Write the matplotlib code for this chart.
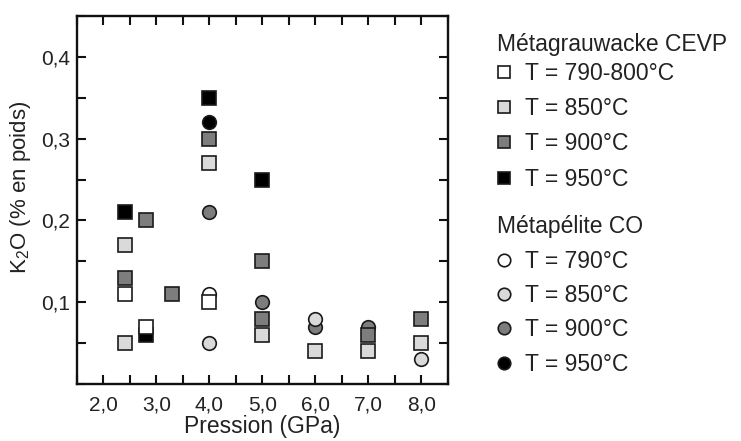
import matplotlib
matplotlib.use("Agg")
import matplotlib.pyplot as plt
from matplotlib.lines import Line2D
from matplotlib.ticker import MultipleLocator, FuncFormatter

plt.rcParams['font.family'] = ['Liberation Sans', 'DejaVu Sans']
plt.rcParams['mathtext.fontset'] = 'custom'
plt.rcParams['mathtext.rm'] = 'Liberation Sans'

# ---- data ----
grau_labels = ["T = 790-800°C", "T = 850°C", "T = 900°C", "T = 950°C"]
grau_x = [
    [2.4, 2.8, 4.0],
    [2.4, 2.4, 4.0, 5.0, 6.0, 7.0, 8.0],
    [2.4, 2.8, 3.3, 4.0, 5.0, 5.0, 7.0, 8.0],
    [2.4, 2.8, 4.0, 5.0],
]
grau_y = [
    [0.11, 0.07, 0.10],
    [0.17, 0.05, 0.27, 0.06, 0.04, 0.04, 0.05],
    [0.13, 0.20, 0.11, 0.30, 0.15, 0.08, 0.06, 0.08],
    [0.21, 0.06, 0.35, 0.25],
]
pel_labels = ["T = 790°C", "T = 850°C", "T = 900°C", "T = 950°C"]
pel_x = [
    [4.0],
    [4.0, 6.0, 8.0],
    [4.0, 5.0, 6.0, 7.0],
    [4.0],
]
pel_y = [
    [0.11],
    [0.05, 0.08, 0.03],
    [0.21, 0.10, 0.07, 0.07],
    [0.32],
]
grau_title = "Métagrauwacke CEVP"
pel_title = "Métapélite CO"
x_label = "Pression (GPa)"
y_label = r"K$_\mathregular{2}$O (% en poids)"

# ---- style ----
fills = ["#ffffff", "#dadada", "#7d7d7d", "#000000"]
edge = "#1a1a1a"
ms = 9.8
mew = 1.2

W, H = 741, 441
fig = plt.figure(figsize=(W / 100, H / 100), dpi=100)
ax = fig.add_axes([77 / W, (H - 384) / H, 371 / W, 368 / H])

# circles first (hottest first), then squares (hottest first)
for i in reversed(range(4)):
    ax.plot(pel_x[i], pel_y[i], linestyle='none', marker='o', ms=ms,
            mfc=fills[i], mec=edge, mew=mew, zorder=3)
for i in reversed(range(4)):
    ax.plot(grau_x[i], grau_y[i], linestyle='none', marker='s', ms=ms,
            mfc=fills[i], mec=edge, mew=mew, zorder=4)

ax.set_xlim(1.5, 8.5)
ax.set_ylim(0.0, 0.45)
ax.xaxis.set_minor_locator(MultipleLocator(0.5))
ax.yaxis.set_minor_locator(MultipleLocator(0.05))
ax.set_xticks([2, 3, 4, 5, 6, 7, 8])
ax.set_yticks([0.1, 0.2, 0.3, 0.4])
ax.xaxis.set_major_formatter(FuncFormatter(lambda v, p: f"{v:.1f}".replace('.', ',')))
ax.yaxis.set_major_formatter(FuncFormatter(lambda v, p: f"{v:.1f}".replace('.', ',')))
ax.tick_params(which='both', direction='in', top=True, right=True,
               length=6.3, width=1.5, color='#111111')
ax.tick_params(axis='x', which='major', pad=8, labelsize=15, labelcolor='#222222')
ax.tick_params(axis='y', which='major', pad=5, labelsize=15, labelcolor='#222222')
for s in ax.spines.values():
    s.set_linewidth(1.7)
    s.set_color('#111111')

ax.set_xlabel(x_label, fontsize=16.5, color='#222222', labelpad=1)
ax.set_ylabel(y_label, fontsize=16, color='#222222')
ax.yaxis.set_label_coords(-0.118, 0.535)

# ---- legend (two groups with headings) ----
def fy(ypix):
    return 1 - ypix / H

leg_fs = 16.5
marker_x = 504 / W
text_x = 525 / W
head_x = 497 / W

def group(title, head_y, rows_y, labels, marker):
    fig.text(head_x, fy(head_y), title, fontsize=leg_fs, color='#222222',
             va='baseline', ha='left')
    for i, (yy, lab) in enumerate(zip(rows_y, labels)):
        fig.add_artist(Line2D([marker_x], [fy(yy)], transform=fig.transFigure,
                              marker=marker, ms=9.0, mfc=fills[i], mec=edge,
                              mew=mew, linestyle='none'))
        fig.text(text_x, fy(yy + 8.3), lab, fontsize=leg_fs, color='#222222',
                 va='baseline', ha='left')

group(grau_title, 51, [72, 107, 142, 178], grau_labels, 's')
group(pel_title, 233, [260, 294, 328, 363], pel_labels, 'o')

fig.savefig("out.png", dpi=100)
